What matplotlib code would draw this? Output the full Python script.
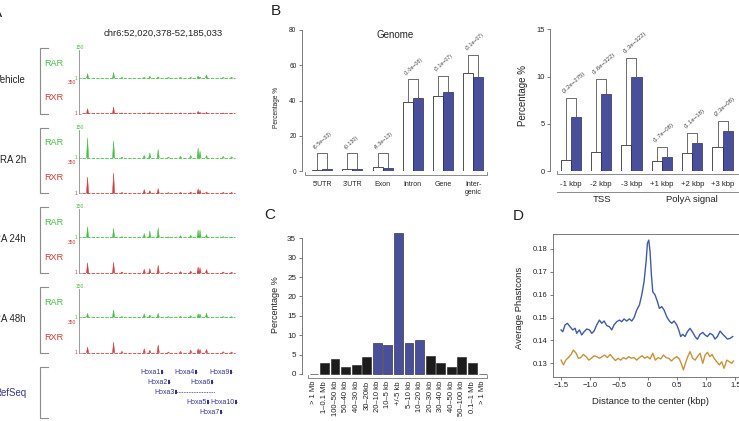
import matplotlib
matplotlib.use("Agg")
import matplotlib.pyplot as plt
import matplotlib.transforms as mtransforms
from matplotlib.lines import Line2D
import numpy as np

plt.rcParams['font.family'] = ['Liberation Sans', 'DejaVu Sans']

W, H = 739, 421

# ---------------- data ----------------
# A: genome browser tracks (kb from region start)
chrom_label = "chr6:52,020,378-52,185,033"
region_kb = 164.655
conditions = ["Vehicle", "RA 2h", "RA 24h", "RA 48h"]
peak_pos = [6, 34, 43, 67, 73, 82, 93, 106, 117, 125, 127, 134, 152, 161]
rar_heights = [
    [24, 29, 3, 4, 10, 7, 3, 3, 4, 10, 6, 17, 3, 3],
    [100, 84, 4, 13, 25, 42, 4, 8, 12, 49, 34, 12, 8, 6],
    [54, 46, 5, 21, 33, 49, 4, 10, 13, 38, 38, 16, 5, 3],
    [20, 37, 3, 17, 12, 20, 3, 5, 8, 17, 17, 22, 3, 3],
]
rxr_heights = [
    [57, 76, 8, 8, 11, 8, 6, 8, 8, 27, 15, 15, 8, 6],
    [187, 233, 10, 43, 31, 54, 8, 12, 16, 50, 39, 16, 12, 12],
    [117, 124, 12, 43, 51, 89, 8, 16, 23, 70, 62, 39, 12, 8],
    [64, 120, 15, 45, 30, 90, 8, 15, 30, 45, 38, 38, 11, 8],
]
gene_names = ["Hoxa1", "Hoxa4", "Hoxa9", "Hoxa2", "Hoxa6", "Hoxa3", "Hoxa5", "Hoxa10", "Hoxa7"]
gene_start = [85, 121.6, 159.3, 92.6, 138.9, 100, 134.5, 164.2, 148.5]
gene_end = [87.5, 124, 161.8, 95, 141.3, 143, 137, 166.5, 151]
gene_row = [0, 0, 0, 1, 1, 2, 3, 3, 4]

# B: genomic regions
region_cats = ["5'UTR", "3'UTR", "Exon", "Intron", "Gene", "Inter-\ngenic"]
region_bg = [0.3, 1.2, 2.3, 39.3, 42.6, 55.4]
region_peaks = [1.2, 1.2, 1.5, 41.2, 45.0, 53.2]
region_bracket = [10, 10, 10, 52, 54, 66]
region_pvals = ["(6.5e−33)", "(0.130)", "(4.3e−13)", "(1.0e−08)", "(3.1e−07)", "(3.1e−07)"]

flank_cats = ["-1 kbp", "-2 kbp", "-3 kbp", "+1 kbp", "+2 kbp", "+3 kbp"]
flank_bg = [1.16, 2.05, 2.75, 1.09, 1.87, 2.57]
flank_peaks = [5.75, 8.2, 9.9, 1.52, 3.0, 4.24]
flank_bracket = [7.77, 9.75, 12.0, 2.57, 4.06, 5.3]
flank_pvals = ["(3.2e−275)", "(1.6e−322)", "(1.3e−322)", "(1.7e−08)", "(1.1e−18)", "(2.3e−08)"]

# C: distance to nearest gene
dist_labels = ["> 1 Mb", "1–0.1 Mb", "100–50 kb", "50–40 kb", "40–30 kb", "30–20kb",
               "20–10 kb", "10–5 kb", "+/-5 kb", "5–10 kb", "10–20 kb", "20–30 kb",
               "30–40 kb", "40–50 kb", "50–100 kb", "0.1–1 Mb", "> 1 Mb"]
dist_pct = [0, 2.75, 3.78, 1.9, 2.3, 4.3, 8.1, 7.5, 36.3, 7.9, 8.8, 4.7, 2.9, 1.9, 4.3, 2.9, 0]
dist_near = [False] * 6 + [True] * 5 + [False] * 6

# D: conservation profile
peak_x = [-1.506, -1.477, -1.437, -1.397, -1.351, -1.305, -1.264, -1.236, -1.190, -1.149,
          -1.109, -1.063, -1.017, -0.977, -0.937, -0.891, -0.845, -0.805, -0.764, -0.718,
          -0.672, -0.632, -0.592, -0.546, -0.500, -0.460, -0.420, -0.374, -0.328, -0.287,
          -0.247, -0.201, -0.155, -0.115, -0.075, -0.040, -0.017, 0.006, 0.029, 0.052,
          0.075, 0.115, 0.155, 0.190, 0.230, 0.270, 0.316, 0.362, 0.402, 0.443,
          0.489, 0.523, 0.557, 0.592, 0.632, 0.672, 0.718, 0.764, 0.805, 0.845,
          0.891, 0.937, 0.977, 1.017, 1.063, 1.109, 1.149, 1.190, 1.236, 1.282,
          1.322, 1.362, 1.408, 1.454]
peak_cons = [0.1446, 0.1438, 0.1468, 0.1475, 0.1460, 0.1446, 0.1453, 0.1431, 0.1446, 0.1424,
             0.1438, 0.1450, 0.1446, 0.1431, 0.1441, 0.1468, 0.1489, 0.1475, 0.1485, 0.1465,
             0.1460, 0.1446, 0.1468, 0.1482, 0.1489, 0.1482, 0.1494, 0.1485, 0.1494, 0.1485,
             0.1500, 0.1533, 0.1555, 0.1599, 0.1657, 0.1745, 0.1825, 0.1839, 0.1788, 0.1686,
             0.1613, 0.1599, 0.1570, 0.1540, 0.1548, 0.1533, 0.1504, 0.1485, 0.1475, 0.1485,
             0.1468, 0.1446, 0.1417, 0.1427, 0.1417, 0.1438, 0.1453, 0.1435, 0.1417, 0.1405,
             0.1427, 0.1435, 0.1424, 0.1417, 0.1431, 0.1424, 0.1406, 0.1417, 0.1441, 0.1427,
             0.1417, 0.1406, 0.1409, 0.1417]
bg_x = [-1.506, -1.466, -1.425, -1.379, -1.333, -1.293, -1.247, -1.207, -1.167, -1.121,
        -1.075, -1.029, -0.983, -0.937, -0.891, -0.845, -0.799, -0.753, -0.707, -0.661,
        -0.615, -0.569, -0.523, -0.477, -0.431, -0.385, -0.339, -0.293, -0.247, -0.201,
        -0.155, -0.109, -0.063, -0.017, 0.029, 0.075, 0.121, 0.167, 0.213, 0.259,
        0.305, 0.351, 0.397, 0.443, 0.489, 0.534, 0.575, 0.603, 0.638, 0.678,
        0.718, 0.764, 0.805, 0.845, 0.891, 0.937, 0.977, 1.017, 1.063, 1.098,
        1.132, 1.178, 1.224, 1.264, 1.305, 1.351, 1.397, 1.437, 1.466]
bg_cons = [0.1314, 0.1293, 0.1314, 0.1325, 0.1339, 0.1358, 0.1344, 0.1322, 0.1325, 0.1339,
           0.1329, 0.1314, 0.1322, 0.1333, 0.1329, 0.1322, 0.1329, 0.1336, 0.1325, 0.1339,
           0.1325, 0.1312, 0.1322, 0.1314, 0.1325, 0.1319, 0.1329, 0.1322, 0.1325, 0.1314,
           0.1325, 0.1333, 0.1322, 0.1329, 0.1319, 0.1344, 0.1314, 0.1325, 0.1319, 0.1336,
           0.1325, 0.1322, 0.1310, 0.1322, 0.1329, 0.1319, 0.1293, 0.1271, 0.1300, 0.1329,
           0.1351, 0.1322, 0.1314, 0.1329, 0.1344, 0.1300, 0.1336, 0.1348, 0.1329, 0.1339,
           0.1322, 0.1307, 0.1293, 0.1307, 0.1278, 0.1314, 0.1307, 0.1300, 0.1310]

GREEN = "#45bf45"
RED = "#d23c3c"
NAVY = "#34348f"
GRAY = "#8c8c8c"
BLUE = "#4a4f9c"
TXT = "#222222"

fig = plt.figure(figsize=(W / 100, H / 100), dpi=100)
PX = mtransforms.Affine2D().scale(1 / W, -1 / H).translate(0, 1) + fig.transFigure


def rect(x0, y0, x1, y1):
    return [x0 / W, 1 - y1 / H, (x1 - x0) / W, (y1 - y0) / H]


def ftext(x, y, s, **kw):
    fig.text(x, y, s, transform=PX, **kw)


def fline(xs, ys, **kw):
    fig.add_artist(Line2D(xs, ys, transform=PX, **kw))


def r_axis(ax, fs):
    for s in ["top", "right", "bottom"]:
        ax.spines[s].set_visible(False)
    ax.spines["left"].set_color("#666666")
    ax.spines["left"].set_linewidth(0.6)
    ax.tick_params(axis="y", length=2.5, width=0.6, color="#666666", labelsize=fs,
                   labelcolor=TXT, pad=1.5)
    ax.set_xticks([])


# ---------------- A ----------------
ftext(2, 13, "A", fontsize=11, ha="right", va="center", color=TXT)
ftext(163.5, 33.5, chrom_label, fontsize=6.8, ha="center", va="center", color=TXT)
kbpx = region_kb / 153.0
xl = (-3 * kbpx, region_kb + 1 * kbpx)
pw = 1.1 * kbpx

for g, cond in enumerate(conditions):
    top = 48 + 79.7 * g
    ftext(26, top + 32, cond, fontsize=6.9, ha="right", va="center", color=TXT)
    fline([48, 40, 40, 48], [top, top, top + 65.5, top + 65.5], color=GRAY, lw=0.8)
    ftext(53.5, top + 15, "RAR", fontsize=6.6, ha="center", va="center", color=GREEN)
    ftext(53.5, top + 50, "RXR", fontsize=6.6, ha="center", va="center", color=RED)
    fline([79, 79], [top + 2, top + 65.5], color=GRAY, lw=0.6)
    ftext(79.5, top - 0.5, "150", fontsize=3.6, ha="center", va="center", color=GREEN)
    ftext(76.5, top + 35, "350", fontsize=3.6, ha="right", va="center", color=RED)
    tracks = [(top, top + 30, 150, rar_heights[g], GREEN),
              (top + 35, top + 65.5, 350, rxr_heights[g], RED)]
    for t, b, ymax, hts, col in tracks:
        ftext(77, b, "1", fontsize=3.6, ha="right", va="center", color=col)
        fline([79, 80.5], [b, b], color=GRAY, lw=0.5)
        ax = fig.add_axes(rect(79, t, 236, b))
        ax.set_xlim(xl)
        ax.set_ylim(1, ymax)
        ax.axis("off")
        ax.plot([0, region_kb], [1, 1], color=col, lw=0.6, ls=(0, (4, 1.5)), clip_on=False)
        for p, h in zip(peak_pos, hts):
            ax.fill([p - pw, p, p + pw], [1, h, 1], color=col, lw=0.3, clip_on=False)

ftext(26, 393, "RefSeq", fontsize=6.9, ha="right", va="center", color=NAVY)
fline([48, 40, 40, 48], [367, 367, 418, 418], color=GRAY, lw=0.8)
axg = fig.add_axes(rect(79, 366, 236, 417))
axg.set_xlim(xl)
axg.set_ylim(4.5, -0.6)
axg.axis("off")
for name, s, e, r in zip(gene_names, gene_start, gene_end, gene_row):
    axg.text(s - 0.4, r, name, fontsize=5, ha="right", va="center", color=NAVY)
    axg.plot([s, e], [r, r], color=NAVY, lw=0.6, ls=(0, (1, 1)), clip_on=False)
    axg.plot([s, s + 2.2], [r, r], color=NAVY, lw=3, solid_capstyle="butt", clip_on=False)

# ---------------- B (left) ----------------
ftext(276, 11, "B", fontsize=11, ha="center", va="center", color=TXT)
axb = fig.add_axes(rect(302, 30, 490, 171))
axb.set_xlim(0, 18.65)
axb.set_ylim(0, 80)
r_axis(axb, 4.7)
axb.set_yticks([0, 20, 40, 60, 80])
gx = np.arange(len(region_cats)) * 3
axb.bar(gx + 1, region_bg, width=1, align="edge", color="white", edgecolor="#333333", lw=0.6)
axb.bar(gx + 2, region_peaks, width=1, align="edge", color=BLUE, edgecolor="#2a2a55", lw=0.5)
bl = mtransforms.blended_transform_factory(axb.transData, PX)
for i in range(len(region_cats)):
    a, b2 = gx[i] + 1.5, gx[i] + 2.5
    axb.plot([a, a, b2, b2], [region_bg[i], region_bracket[i], region_bracket[i], region_peaks[i]],
             color="#555555", lw=0.6, clip_on=False)
    axb.annotate(region_pvals[i], (a - 0.1, region_bracket[i]), xytext=(0, 2.5),
                 textcoords="offset points", rotation=42, rotation_mode="anchor",
                 ha="left", va="bottom", fontsize=3.8, color="#444444")
    axb.text(gx[i] + 2, 180.5, region_cats[i], fontsize=5, ha="center", va="top",
             linespacing=1.35, color=TXT, transform=bl)
axb.plot([0.3, 0.3, 18.4, 18.4], [171.5, 174.5, 174.5, 171.5], color="#777777", lw=0.6,
         transform=bl, clip_on=False)
ftext(277, 107, "Percentage %", fontsize=4.7, rotation=90, ha="center", va="center", color=TXT)
ftext(395, 35, "Genome", fontsize=7, ha="center", va="center", color=TXT)

# ---------------- B (right) ----------------
axf = fig.add_axes(rect(550.4, 29.3, 739, 171))
axf.set_xlim(0, 18.62)
axf.set_ylim(0, 15)
r_axis(axf, 5.4)
axf.set_yticks([0, 5, 10, 15])
fx = np.arange(len(flank_cats)) * 3
axf.bar(fx + 1, flank_bg, width=1, align="edge", color="white", edgecolor="#333333", lw=0.6)
axf.bar(fx + 2, flank_peaks, width=1, align="edge", color=BLUE, edgecolor="#2a2a55", lw=0.5)
blf = mtransforms.blended_transform_factory(axf.transData, PX)
for i in range(len(flank_cats)):
    a, b2 = fx[i] + 1.5, fx[i] + 2.5
    axf.plot([a, a, b2, b2], [flank_bg[i], flank_bracket[i], flank_bracket[i], flank_peaks[i]],
             color="#555555", lw=0.6, clip_on=False)
    axf.annotate(flank_pvals[i], (a - 0.1, flank_bracket[i]), xytext=(0, 2.5),
                 textcoords="offset points", rotation=42, rotation_mode="anchor",
                 ha="left", va="bottom", fontsize=4.3, color="#444444")
    axf.text(fx[i] + 2, 184, flank_cats[i], fontsize=5.6, ha="center", va="center",
             color=TXT, transform=blf)
axf.plot([0.65, 0.65, 18.7, 18.7], [171, 174, 174, 171], color="#777777", lw=0.6,
         transform=blf, clip_on=False)
axf.plot([0.65, 9.5], [192, 192], color="#777777", lw=0.6, transform=blf, clip_on=False)
axf.plot([9.65, 18.8], [192, 192], color="#777777", lw=0.6, transform=blf, clip_on=False)
axf.text(5.1, 199.5, "TSS", fontsize=6.8, ha="center", va="center", color=TXT, transform=blf)
axf.text(14.0, 199.5, "PolyA signal", fontsize=6.8, ha="center", va="center", color=TXT,
         transform=blf)
ftext(523, 95, "Percentage %", fontsize=7, rotation=90, ha="center", va="center", color=TXT)

# ---------------- C ----------------
ftext(270, 215, "C", fontsize=11, ha="center", va="center", color=TXT)
axc = fig.add_axes(rect(301.7, 238.3, 490, 374))
axc.set_xlim(-0.69, 20.7)
axc.set_ylim(0, 35)
r_axis(axc, 5.8)
axc.set_yticks(range(0, 36, 5))
cx = np.arange(len(dist_labels)) * 1.2 + 0.7
cbars = axc.bar(cx, dist_pct, width=1, color=[BLUE if n else "#1c1c1c" for n in dist_near],
                edgecolor="#1c1c1c", lw=0.4)
for bar in cbars:
    bar.set_clip_on(False)
blc = mtransforms.blended_transform_factory(axc.transData, PX)
axc.plot([0, 0, 20.4, 20.4], [374.5, 377.7, 377.7, 374.5], color="#777777", lw=0.6,
         transform=blc, clip_on=False)
for xx, lab in zip(cx, dist_labels):
    axc.text(xx, 381, lab, fontsize=5.5, rotation=90, ha="center", va="top", color=TXT,
             transform=blc)
ftext(275, 305, "Percentage %", fontsize=6.5, rotation=90, ha="center", va="center", color=TXT)

# ---------------- D ----------------
ftext(518, 216, "D", fontsize=11, ha="center", va="center", color=TXT)
axd = fig.add_axes(rect(553.3, 234, 743.5, 376.7))
axd.set_xlim(-1.64, 1.64)
axd.set_ylim(0.12414, 0.18656)
axd.plot(peak_x, peak_cons, color="#3f5aa8", lw=1.0)
axd.plot(bg_x, bg_cons, color="#c8923a", lw=1.0)
for s in axd.spines.values():
    s.set_color("#666666")
    s.set_linewidth(0.6)
axd.tick_params(length=2.5, width=0.6, color="#666666", labelsize=5.5, labelcolor=TXT, pad=1.5)
axd.set_xticks([-1.5, -1.0, -0.5, 0, 0.5, 1.0, 1.5])
axd.set_xticklabels(["−1.5", "−1.0", "−0.5", "0", "0.5", "1.0", "1.5"])
axd.set_yticks([0.13, 0.14, 0.15, 0.16, 0.17, 0.18])
axd.set_yticklabels(["0.13", "0.14", "0.15", "0.16", "0.17", "0.18"])
ftext(519, 308, "Average Phastcons", fontsize=6.8, rotation=90, ha="center", va="center", color=TXT)
ftext(650, 402, "Distance to the center (kbp)", fontsize=6.8, ha="center", va="center", color=TXT)

fig.savefig("out.png", dpi=100)
